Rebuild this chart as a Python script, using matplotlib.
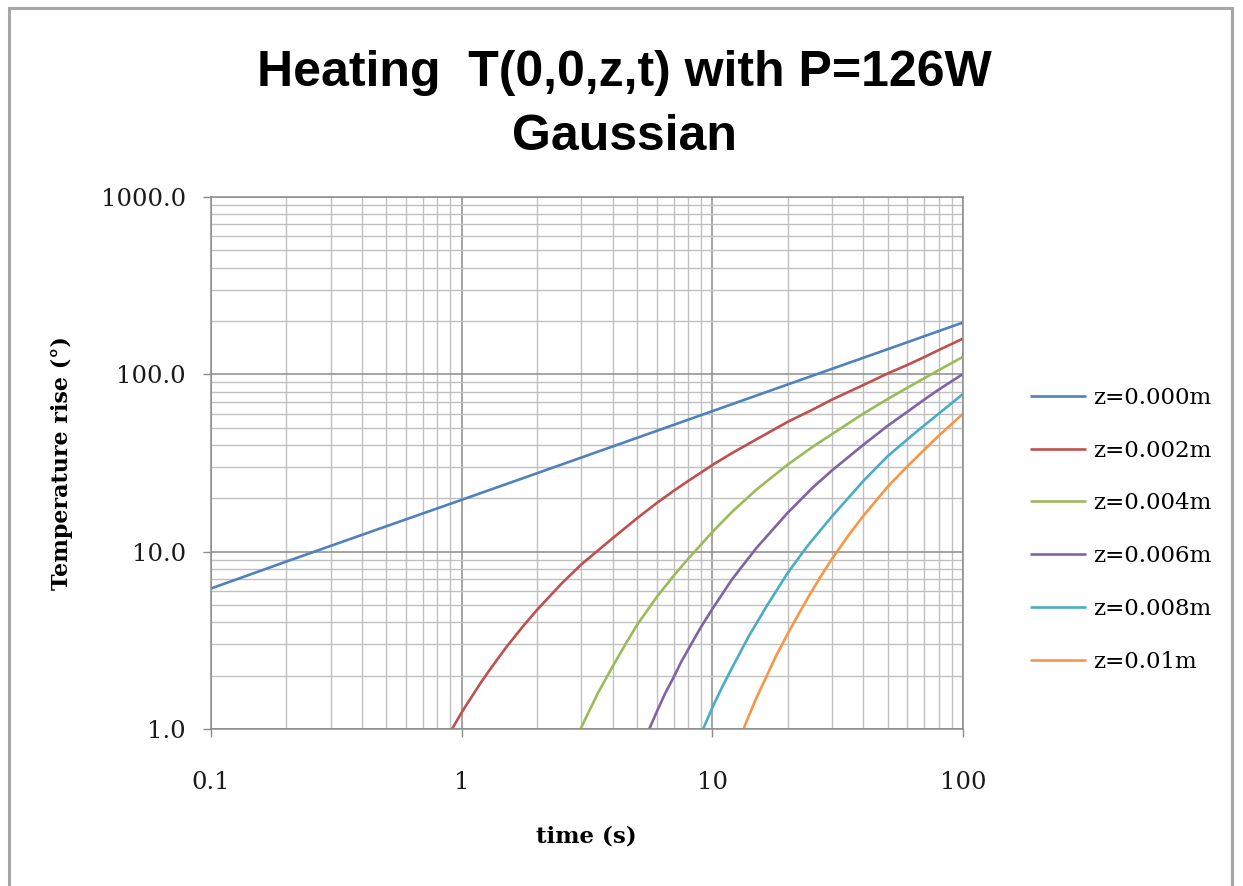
import matplotlib
matplotlib.use("Agg")
import matplotlib.pyplot as plt
from matplotlib.ticker import LogLocator, FuncFormatter, NullFormatter
from matplotlib.patches import Rectangle

# ---------------- data ----------------
series_labels = ["z=0.000m", "z=0.002m", "z=0.004m", "z=0.006m", "z=0.008m", "z=0.01m"]
series_colors = ["#4F81BD", "#C0504D", "#9BBB59", "#8064A2", "#4BACC6", "#F79646"]

t_z000 = [0.1, 0.2, 0.5, 1, 2, 5, 10, 20, 50, 100]
T_z000 = [6.2, 8.8, 13.9, 19.6, 27.7, 43.8, 62.0, 87.7, 138.5, 196.0]

t_z002 = [0.9, 1, 1.1, 1.2, 1.3, 1.5, 1.75, 2, 2.5, 3, 4, 5, 6, 7, 8, 10, 12, 15, 20, 25, 30, 40, 50, 60, 70, 80, 100]
T_z002 = [0.96, 1.24, 1.53, 1.85, 2.175, 2.87, 3.77, 4.7, 6.6, 8.47, 11.9, 15.4, 18.8, 22.0, 25.0, 30.8, 36, 43, 54, 63, 72, 87, 101, 113, 125, 137, 159]

t_z004 = [2.95, 3, 3.25, 3.5, 4, 4.5, 5, 6, 7, 8, 10, 12, 15, 20, 25, 30, 40, 50, 60, 70, 80, 100]
T_z004 = [0.97, 1.02, 1.29, 1.6, 2.25, 3.0, 3.85, 5.55, 7.3, 9.1, 12.9, 16.8, 22.4, 31, 38.8, 46, 60, 72.5, 84, 95, 105.5, 125.5]

t_z006 = [5.55, 6, 6.5, 7, 7.5, 8, 9, 10, 12, 15, 20, 25, 30, 40, 50, 60, 70, 80, 100]
T_z006 = [0.97, 1.25, 1.6, 1.95, 2.38, 2.8, 3.75, 4.75, 7.0, 10.5, 16.6, 22.8, 28.7, 40, 51.2, 61.5, 72, 82, 100.5]

t_z008 = [9.1, 10, 11, 12, 14, 16.5, 20, 24, 30, 40, 50, 60, 70, 80, 100]
T_z008 = [0.97, 1.32, 1.75, 2.22, 3.35, 4.95, 7.6, 10.8, 15.8, 25.0, 34.5, 43, 51.5, 60, 77.5]

t_z010 = [13.2, 13.6, 15, 16.5, 18, 20, 22, 24.5, 27, 30, 35, 40, 50, 60, 70, 80, 100]
T_z010 = [0.96, 1.08, 1.5, 2.0, 2.6, 3.45, 4.4, 5.75, 7.2, 9.1, 12.4, 15.9, 23.2, 30.3, 37.5, 45, 60]

x_ticks = [0.1, 1, 10, 100]
y_ticks = [1, 10, 100, 1000]

title_line1 = "Heating  T(0,0,z,t) with P=126W"
title_line2 = "Gaussian"
x_label = "time (s)"
y_label = "Temperature rise (°)"

# ---------------- figure ----------------
W, H = 1243, 886
fig = plt.figure(figsize=(W / 100, H / 100), dpi=100)
fig.patch.set_facecolor("white")

# outer chart border
fig.patches.append(Rectangle((9 / W, -0.05), (1232 - 9) / W, (886 - 8) / H + 0.05,
                             transform=fig.transFigure, fill=False,
                             edgecolor="#a6a6a6", lw=2.2))

L, R, T, B = 211, 963, 197, 729
ax = fig.add_axes([L / W, 1 - B / H, (R - L) / W, (B - T) / H])
ax.set_xscale("log")
ax.set_yscale("log")
ax.set_xlim(0.1, 100)
ax.set_ylim(1, 1000)

all_t = [t_z000, t_z002, t_z004, t_z006, t_z008, t_z010]
all_T = [T_z000, T_z002, T_z004, T_z006, T_z008, T_z010]
for tt, TT, lab, col in zip(all_t, all_T, series_labels, series_colors):
    ax.plot(tt, TT, color=col, lw=1.9, label=lab, solid_capstyle="butt",
            solid_joinstyle="round")

ax.set_axisbelow(True)
ax.xaxis.set_minor_locator(LogLocator(base=10, subs=range(2, 10), numticks=20))
ax.yaxis.set_minor_locator(LogLocator(base=10, subs=range(2, 10), numticks=20))
ax.set_xticks(x_ticks)
ax.set_yticks(y_ticks)
ax.xaxis.set_major_formatter(FuncFormatter(lambda v, p: "%g" % v))
ax.yaxis.set_major_formatter(FuncFormatter(lambda v, p: "%.1f" % v))
ax.xaxis.set_minor_formatter(NullFormatter())
ax.yaxis.set_minor_formatter(NullFormatter())

ax.grid(which="major", color="#8c8c8c", lw=1.1)
ax.grid(which="minor", color="#c0c0c0", lw=1.0)
for s in ax.spines.values():
    s.set_color("#8c8c8c")
    s.set_linewidth(1.1)

ax.tick_params(which="major", direction="out", length=6, width=1.0, color="#8c8c8c")
ax.tick_params(which="minor", length=0)
ax.tick_params(axis="x", pad=24)
ax.tick_params(axis="y", pad=12)
for lbl in ax.get_xticklabels() + ax.get_yticklabels():
    lbl.set_fontfamily("DejaVu Serif")
    lbl.set_fontsize(17.5)
    lbl.set_color("#1a1a1a")

# titles and axis labels
fig.text(624 / W, 1 - 86 / H, title_line1, ha="center", va="baseline",
         fontsize=36, fontweight="bold", family="Liberation Sans", color="black")
fig.text(624 / W, 1 - 150 / H, title_line2, ha="center", va="baseline",
         fontsize=36, fontweight="bold", family="Liberation Sans", color="black")
fig.text(586 / W, 1 - 836 / H, x_label, ha="center", va="center",
         fontsize=16.5, fontweight="bold", family="DejaVu Serif")
fig.text(62 / W, 1 - 463 / H, y_label, ha="center", va="center", rotation=90,
         fontsize=16, fontweight="bold", family="DejaVu Serif")

leg = ax.legend(loc="upper left", bbox_to_anchor=(1030 / W, 1 - 387 / H),
                bbox_transform=fig.transFigure, frameon=False,
                prop=dict(family="DejaVu Serif", size=16.5),
                handlelength=2.45, handletextpad=0.3, labelspacing=1.34,
                borderpad=0, borderaxespad=0)
for line in leg.get_lines():
    line.set_linewidth(1.9)

fig.savefig("out.png", dpi=100)
